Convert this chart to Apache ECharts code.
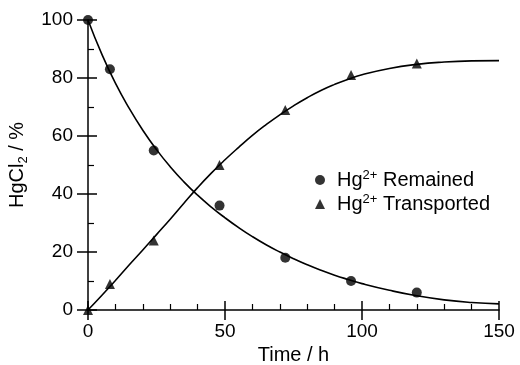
<!DOCTYPE html>
<html>
<head>
<meta charset="utf-8">
<script src="https://cdn.jsdelivr.net/npm/echarts@6/dist/echarts.min.js"></script>
<style>html,body{margin:0;padding:0;background:#fff}#c{width:520px;height:365px}</style>
</head>
<body>
<div id="c"></div>
<script>
// Measured points
var timePts = [0, 8, 24, 48, 72, 96, 120];
var remained = [100, 83, 55, 36, 18, 10, 6];
var transported = [0, 9, 24, 50, 69, 81, 85];
// Fitted curves
var curveT = [0, 5, 10, 15, 20, 25, 30, 35, 40, 45, 50, 55, 60, 65, 70, 75, 80, 85, 90, 95, 100, 110, 120, 130, 140, 150];
var remainedCurve = [100, 88.3, 78.2, 69.6, 62, 55.3, 49.4, 44.2, 39.6, 35.5, 31.8, 28.4, 25.3, 22.5, 20, 17.7, 15.6, 13.7, 12, 10.5, 9.1, 6.8, 4.9, 3.5, 2.6, 2.1];
var transportedCurve = [0, 5, 10.2, 15.5, 20.7, 26, 31.3, 36.8, 42.2, 47.2, 51.8, 56.1, 60.2, 63.9, 67.3, 70.4, 73.2, 75.7, 77.8, 79.6, 81.1, 83.3, 84.7, 85.5, 85.9, 86];
var xTicks = [0, 50, 100, 150];
var yTicks = [0, 20, 40, 60, 80, 100];

function pairs(xs, ys) { return xs.map(function (x, i) { return [x, ys[i]]; }); }

var FONT = "'Liberation Sans', Arial, sans-serif";
var chart = echarts.init(document.getElementById('c'), null, {renderer: 'canvas'});
var baseX = {
  type: 'value', min: xTicks[0], max: xTicks[xTicks.length - 1], interval: xTicks[1] - xTicks[0],
  position: 'bottom', splitLine: {show: false}
};
var baseY = {
  type: 'value', min: yTicks[0], max: yTicks[yTicks.length - 1], interval: yTicks[1] - yTicks[0],
  position: 'left', splitLine: {show: false}
};
chart.setOption({
  backgroundColor: '#fff',
  animation: false,
  grid: {left: 88, right: 21, top: 20, bottom: 55, containLabel: false, outerBoundsMode: 'none'},
  xAxis: [
    Object.assign({}, baseX, {
      axisLine: {show: true, lineStyle: {color: '#000', width: 1.5}},
      axisTick: {show: true, inside: false, length: 10, lineStyle: {color: '#000', width: 1.5}},
      axisLabel: {color: '#000', fontSize: 19, fontFamily: FONT, margin: 12},
      name: 'Time / h', nameLocation: 'middle', nameGap: 35,
      nameTextStyle: {color: '#000', fontSize: 20, fontFamily: FONT}
    }),
    Object.assign({}, baseX, {
      axisLine: {show: false},
      axisTick: {show: true, inside: true, length: 9, lineStyle: {color: '#000', width: 1.5}},
      minorTick: {show: true, splitNumber: 5, length: 6, lineStyle: {color: '#000', width: 1.2}},
      axisLabel: {show: false}
    })
  ],
  yAxis: [
    Object.assign({}, baseY, {
      axisLine: {show: true, lineStyle: {color: '#000', width: 1.5}},
      axisTick: {show: true, inside: false, length: 11, lineStyle: {color: '#000', width: 1.5}},
      axisLabel: {color: '#000', fontSize: 19, fontFamily: FONT, margin: 15},
      name: '{a|HgCl}{s|2}{a| / %}', nameLocation: 'middle', nameGap: 44,
      nameTextStyle: {
        color: '#000', fontSize: 20, fontFamily: FONT,
        rich: {
          a: {fontSize: 20, fontFamily: FONT, color: '#000', lineHeight: 26, verticalAlign: 'middle'},
          s: {fontSize: 13, fontFamily: FONT, color: '#000', lineHeight: 26, verticalAlign: 'bottom'}
        }
      }
    }),
    Object.assign({}, baseY, {
      axisLine: {show: false},
      axisTick: {show: true, inside: true, length: 9, lineStyle: {color: '#000', width: 1.5}},
      minorTick: {show: true, splitNumber: 2, length: 6, lineStyle: {color: '#000', width: 1.2}},
      axisLabel: {show: false}
    })
  ],
  legend: {
    orient: 'vertical', left: 310, top: 164, itemWidth: 10, itemHeight: 10, itemGap: 3,
    data: ['Remained', 'Transported'],
    formatter: function (n) { return '{a|Hg}{u|2+}{a| ' + n + '}'; },
    textStyle: {
      color: '#000', fontFamily: FONT, fontSize: 20, padding: [0, 0, 0, 7],
      rich: {
        a: {fontSize: 20, fontFamily: FONT, color: '#000', lineHeight: 22, verticalAlign: 'middle'},
        u: {fontSize: 13, fontFamily: FONT, color: '#000', lineHeight: 22, verticalAlign: 'top'}
      }
    }
  },
  series: [
    {type: 'line', name: 'fitR', data: pairs(curveT, remainedCurve), smooth: true, showSymbol: false,
     lineStyle: {color: '#000', width: 1.6}, xAxisIndex: 0, yAxisIndex: 0, z: 2, silent: true},
    {type: 'line', name: 'fitT', data: pairs(curveT, transportedCurve), smooth: true, showSymbol: false,
     lineStyle: {color: '#000', width: 1.6}, xAxisIndex: 0, yAxisIndex: 0, z: 2, silent: true},
    {type: 'scatter', name: 'Remained', data: pairs(timePts, remained), symbol: 'circle', symbolSize: 10,
     itemStyle: {color: '#000'}, clip: false, xAxisIndex: 0, yAxisIndex: 0, z: 3},
    {type: 'scatter', name: 'Transported', data: pairs(timePts, transported), symbol: 'triangle', symbolSize: 10,
     itemStyle: {color: '#000'}, clip: false, xAxisIndex: 0, yAxisIndex: 0, z: 3}
  ]
});
</script>
</body>
</html>
